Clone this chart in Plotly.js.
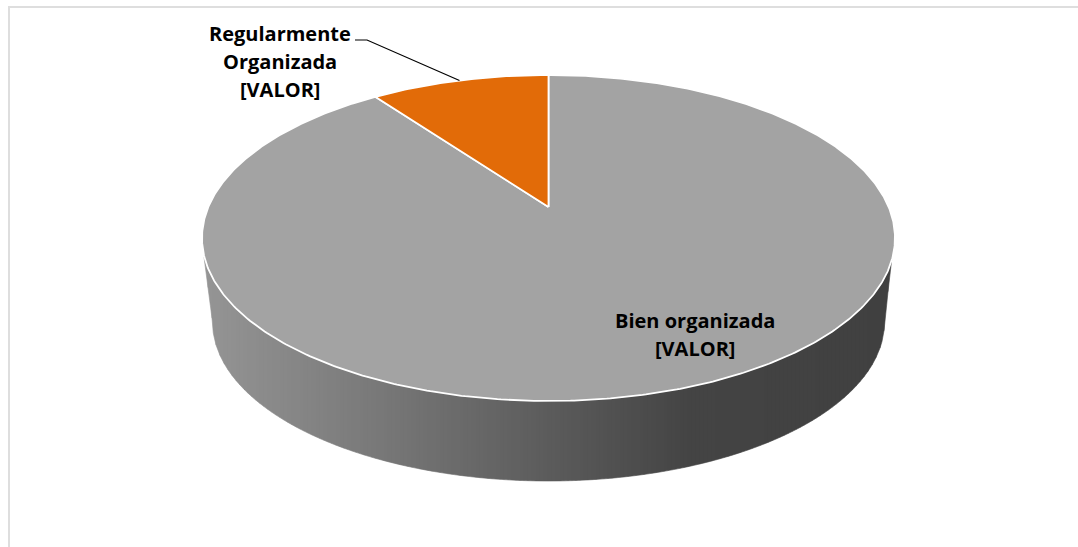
<!DOCTYPE html>
<html>
<head>
<meta charset="utf-8">
<script src="https://cdn.plot.ly/plotly-3.0.1.min.js"></script>
<style>html,body{margin:0;padding:0;background:#fff;overflow:hidden}</style>
</head>
<body>
<div id="chart" style="width:1078px;height:547px"></div>
<script>
// --- data ---
const categories = ["Bien organizada", "Regularmente Organizada"];
const categoryLines = [["Bien organizada", "[VALOR]"], ["Regularmente", "Organizada", "[VALOR]"]];
const values = [90, 10];
const sliceColors = ["#A3A3A3", "#E26B08"];

// --- 3D pie projection (pixel-scaled axes) ---
const cx = 548.5, apexY = 207, topY = 75, botY = 401, halfW = 346.5;
const ellCy = (topY + botY) / 2, ellRy = (botY - topY) / 2;
const k = (2 * apexY - topY - botY) / (botY - topY);
const B = botY * (1 + k) - apexY;
const C = halfW * Math.sqrt(1 - k * k);
function project(deg) {
  const t = deg * Math.PI / 180, u = Math.sin(t), v = -Math.cos(t), w = 1 + k * v;
  return [cx + C * u / w, (apexY + B * v) / w];
}
const total = values.reduce((a, b) => a + b, 0);
const traces = [];

// side wall, drawn as thin vertical strips so the gray gradient can be followed
const wallTop = x => ellCy + ellRy * Math.sqrt(Math.max(0, 1 - Math.pow((x - cx) / halfW, 2))) - 4;
const lowCy = 322, lowRx = 336, lowRy = 159, wallL = 204, wallR = 892;
function wallBot(x) {
  const a = cx - lowRx, b = cx + lowRx;
  if (x < a) return 257 + (x - wallL) / (a - wallL) * (lowCy - 257);
  if (x > b) return 257 + (wallR - x) / (wallR - b) * (lowCy - 257);
  return lowCy + lowRy * Math.sqrt(Math.max(0, 1 - Math.pow((x - cx) / lowRx, 2)));
}
const grayStops = [[204, 0x95], [350, 0x7D], [545, 0x5C], [690, 0x44], [892, 0x40]];
function grayAt(x) {
  for (let i = 1; i < grayStops.length; i++) {
    if (x <= grayStops[i][0]) {
      const p = grayStops[i - 1], q = grayStops[i];
      const g = Math.round(p[1] + (q[1] - p[1]) * (x - p[0]) / (q[0] - p[0]));
      return `rgb(${g},${g},${g})`;
    }
  }
  return "rgb(64,64,64)";
}
const strip = 4;
for (let x0 = wallL; x0 < wallR; x0 += strip) {
  const xs = [], ys = [];
  const x1 = x0 + strip;
  for (let x = x0; x <= x1; x += 0.5) { xs.push(x); ys.push(wallTop(x)); }
  for (let x = x1; x >= x0; x -= 0.25) { xs.push(x); ys.push(wallBot(x)); }
  const col = grayAt(x0 + strip / 2);
  traces.push({type: "scatter", mode: "lines", x: xs, y: ys, fill: "toself", fillcolor: col,
    line: {color: col, width: 0.6}, hoverinfo: "skip", showlegend: false});
}

// top face slices
let cum = 0;
values.forEach((val, i) => {
  const a0 = cum / total * 360, a1 = (cum + val) / total * 360;
  const xs = [cx], ys = [apexY];
  for (let d = a0; d <= a1 + 1e-6; d += 0.5) {
    const p = project(d); xs.push(p[0]); ys.push(p[1]);
  }
  xs.push(cx); ys.push(apexY);
  traces.push({type: "scatter", mode: "lines", x: xs, y: ys, fill: "toself", fillcolor: sliceColors[i],
    line: {color: "#FFFFFF", width: 1.8}, hoverinfo: "skip", showlegend: false});
  cum += val;
});

// leader line to the middle of the small slice
const mid = project((total - values[1] / 2) / total * 360);
traces.push({type: "scatter", mode: "lines", x: [355, 367, mid[0]], y: [40, 40, mid[1]],
  line: {color: "#000000", width: 1.2}, hoverinfo: "skip", showlegend: false});

const labelFont = {family: "'Open Sans', sans-serif", size: 20, color: "#000000", weight: 700};
const labelAnchors = [[695, 320.5], [279.5, 33]];
const lineStep = 28;
const annotations = [];
categoryLines.forEach((lines, i) => {
  lines.forEach((t, j) => annotations.push({
    x: labelAnchors[i][0], y: labelAnchors[i][1] + j * lineStep, text: `<b>${t}</b>`,
    xref: "x", yref: "y", showarrow: false, align: "center",
    xanchor: "center", yanchor: "middle", font: labelFont
  }));
});

const layout = {
  width: 1078, height: 547,
  margin: {l: 0, r: 0, t: 0, b: 0},
  paper_bgcolor: "#FFFFFF", plot_bgcolor: "#FFFFFF",
  showlegend: false,
  xaxis: {range: [0, 1078], visible: false, fixedrange: true},
  yaxis: {range: [547, 0], visible: false, fixedrange: true},
  annotations,
  shapes: [
    {type: "line", xref: "x", yref: "y", x0: 9, x1: 9, y0: 6, y1: 547, line: {color: "#DEDEDE", width: 2}},
    {type: "line", xref: "x", yref: "y", x0: 8, x1: 1078, y0: 7, y1: 7, line: {color: "#DEDEDE", width: 2}}
  ]
};
Plotly.newPlot("chart", traces, layout, {displayModeBar: false, responsive: false});
</script>
</body>
</html>
